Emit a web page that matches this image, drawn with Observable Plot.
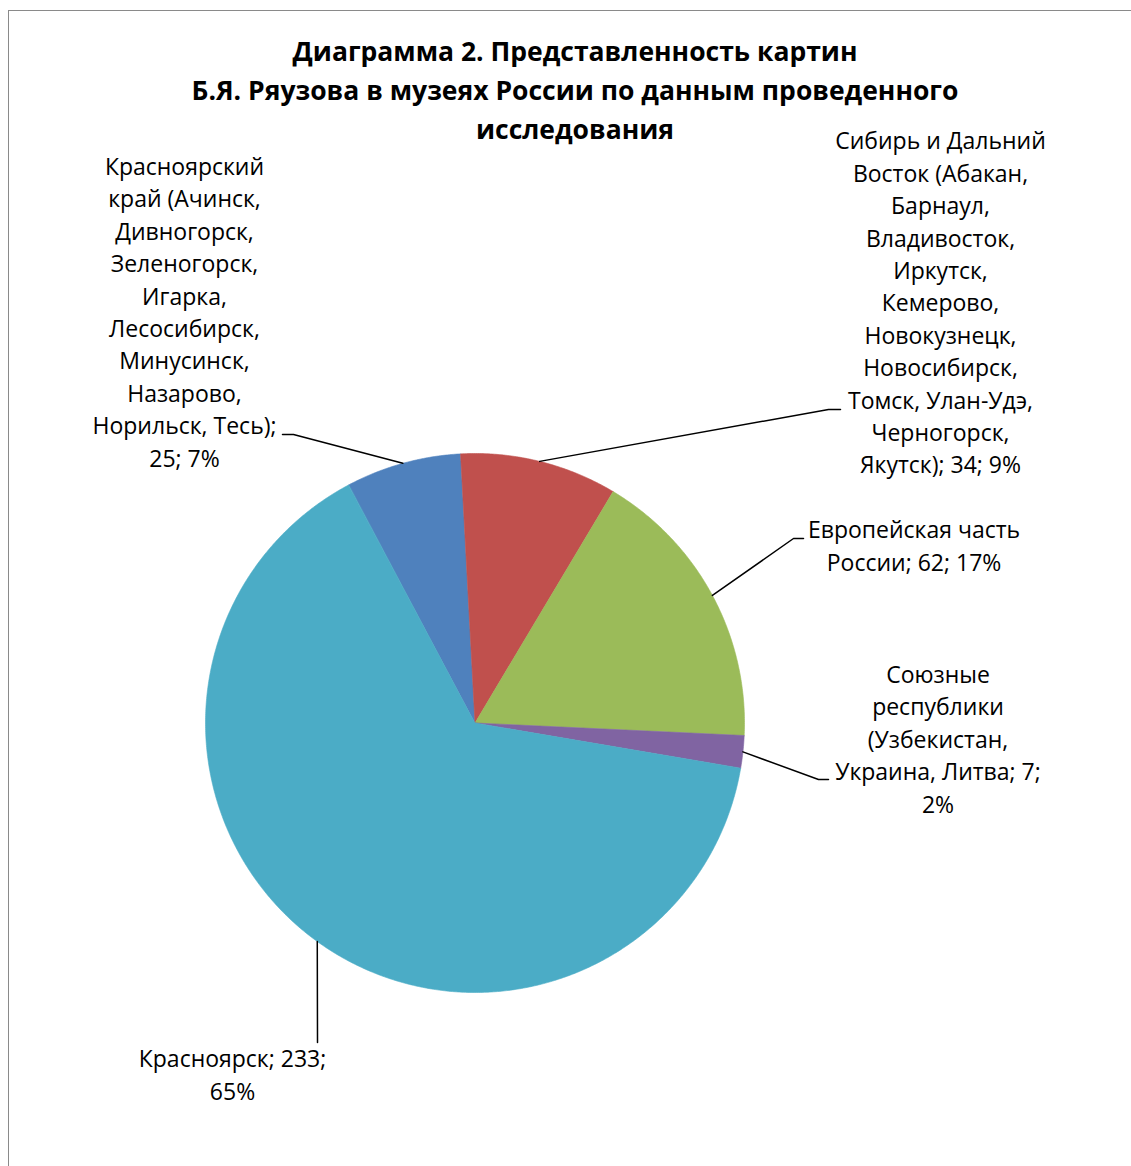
<!DOCTYPE html>
<html>
<head>
<meta charset="utf-8">
<script src="https://cdn.jsdelivr.net/npm/d3@7"></script>
<script src="https://cdn.jsdelivr.net/npm/@observablehq/plot@0.6"></script>
<style>
  html, body { margin: 0; padding: 0; background: #fff; overflow: hidden; }
  #wrap { position: relative; width: 1131px; height: 1166px; overflow: hidden; font-family: "Open Sans", sans-serif; }
  #frame { position: absolute; left: 8px; top: 10px; width: 1300px; height: 1300px; border: 1.5px solid #8a8a8a; box-sizing: border-box; }
  #title { position: absolute; left: 0; top: 32px; width: 1150px; text-align: center; font-weight: bold; font-size: 26.5px; line-height: 39px; color: #000; z-index: 2; }
  #chart { position: absolute; left: 0; top: 0; z-index: 1; }
</style>
</head>
<body>
<div id="wrap">
  <div id="frame"></div>
  <div id="title">Диаграмма 2. Представленность картин<br>Б.Я. Ряузова в музеях России по данным проведенного<br>исследования</div>
  <div id="chart"></div>
</div>
<script>
// ---- data ----
const categories = [
  "Красноярский\nкрай (Ачинск,\nДивногорск,\nЗеленогорск,\nИгарка,\nЛесосибирск,\nМинусинск,\nНазарово,\nНорильск, Тесь)",
  "Сибирь и Дальний\nВосток (Абакан,\nБарнаул,\nВладивосток,\nИркутск,\nКемерово,\nНовокузнецк,\nНовосибирск,\nТомск, Улан-Удэ,\nЧерногорск,\nЯкутск)",
  "Европейская часть\nРоссии",
  "Союзные\nреспублики\n(Узбекистан,\nУкраина, Литва",
  "Красноярск"
];
const values = [25, 34, 62, 7, 233];
const colors = ["#4F81BD", "#C0504D", "#9BBB59", "#8064A2", "#4BACC6"];

// ---- layout ----
const W = 1131, H = 1166;
const cx = 474.5, cy = 722.5, R = 269.5;
const firstSliceDeg = -28;
const sep1 = [";\n", "; ", "; ", "; ", "; "];
const sep2 = ["; ", "; ", "; ", ";\n", ";\n"];
const labelX = [184, 940, 913.5, 937.5, 232];
const labelY = [310, 300.5, 543.5, 737, 1072.5];
const elbowX = [293, 828, 793, 818, 317];
const elbowY = [434, 409, 538, 779, 1042];
const endX = [282, 840, 803, 828, 317];
const endY = [434, 409, 538, 779, 1042];

const total = d3.sum(values);
const rows = categories.map((name, i) => ({name, value: values[i], i}));
const a0 = firstSliceDeg * Math.PI / 180;
const arcs = d3.pie().sort(null).value(d => d.value).startAngle(a0).endAngle(a0 + 2 * Math.PI)(rows);
const polar = (a, r) => ({x: cx + r * Math.sin(a), y: cy - r * Math.cos(a)});

const slices = arcs.map(arc => {
  const pts = [{...polar(0, 0)}];
  const n = Math.max(2, Math.ceil((arc.endAngle - arc.startAngle) / (0.4 * Math.PI / 180)));
  for (let k = 0; k <= n; k++) {
    const a = arc.startAngle + (arc.endAngle - arc.startAngle) * k / n;
    pts.push(polar(a, R));
  }
  return pts;
});

const leaders = arcs.flatMap((arc, i) => {
  const mid = (arc.startAngle + arc.endAngle) / 2;
  const p = polar(mid, R);
  return [
    {i, x: p.x, y: p.y},
    {i, x: elbowX[i], y: elbowY[i]},
    {i, x: endX[i], y: endY[i]}
  ];
});

const labels = rows.map((d, i) => ({
  x: labelX[i], y: labelY[i],
  text: d.name + sep1[i] + d.value + sep2[i] + Math.round(d.value / total * 100) + "%"
}));

const chart = Plot.plot({
  width: W, height: H,
  margin: 0,
  x: {domain: [0, W], range: [0, W], axis: null},
  y: {domain: [0, H], range: [0, H], axis: null},
  marks: [
    ...slices.map((pts, i) => Plot.line(pts, {x: "x", y: "y", fill: colors[i], stroke: colors[i], strokeWidth: 0.6, curve: "linear-closed"})),
    Plot.line(leaders, {x: "x", y: "y", z: "i", stroke: "#000", strokeWidth: 1.5}),
    Plot.text(labels, {x: "x", y: "y", text: "text", fontSize: 23, lineHeight: 1.409, lineAnchor: "middle", textAnchor: "middle", fill: "#000", fontFamily: "Open Sans"})
  ],
  style: {background: "transparent", fontFamily: "Open Sans"}
});
document.getElementById("chart").appendChild(chart);
</script>
</body>
</html>
